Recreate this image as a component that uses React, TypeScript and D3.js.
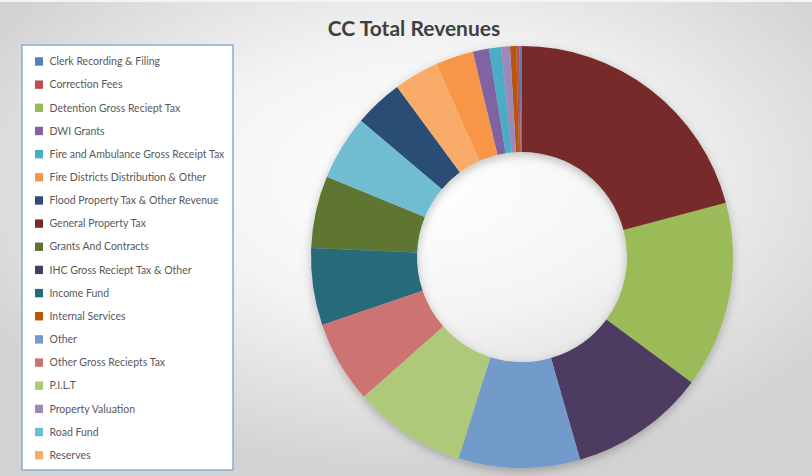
import React from "react";
import * as d3 from "d3";

const categories = [
  "Clerk Recording & Filing",
  "Correction Fees",
  "Detention Gross Reciept Tax",
  "DWI Grants",
  "Fire and Ambulance Gross Receipt Tax",
  "Fire Districts Distribution & Other",
  "Flood Property Tax & Other Revenue",
  "General Property Tax",
  "Grants And Contracts",
  "IHC Gross Reciept Tax & Other",
  "Income Fund",
  "Internal Services",
  "Other",
  "Other Gross Reciepts Tax",
  "P.I.L.T",
  "Property Valuation",
  "Road Fund",
  "Reserves",
];

// share of total revenue (%)
const values = [
  0.19, 0.25, 14.28, 1.25, 0.92, 2.89, 3.75, 20.86, 5.53, 10.42, 5.89, 0.47,
  9.31, 6.31, 8.61, 0.67, 4.97, 3.44,
];

const colors = [
  "#4F81BD", "#C0504D", "#9BBB59", "#8064A2", "#4BACC6", "#F79646",
  "#2C4D75", "#772C2A", "#5F7530", "#4D3B62", "#276A7C", "#B65708",
  "#729ACA", "#CD7371", "#AFC97A", "#9D88B8", "#6FBDD1", "#F9AB6B",
];

const title = "CC Total Revenues";

export default function App() {
  const W = 812, H = 476;
  const cx = 522, cy = 257, outerR = 211, innerR = 105;
  const data = categories.map((c, i) => ({ name: c, value: values[i], color: colors[i] }));
  const pie = d3.pie<any>().value((d: any) => d.value).sort((a: any, b: any) => b.value - a.value);
  const arcs = pie(data);
  const arc = d3.arc<any>().innerRadius(innerR).outerRadius(outerR);

  const legendY = d3.scaleLinear().domain([0, categories.length - 1]).range([61.5, 455.2]);

  return (
    <svg width={W} height={H} style={{ position: "absolute", left: 0, top: 0 }}>
      <defs>
        <radialGradient id="bg" cx="0.52" cy="0.38" r="0.62">
          <stop offset="0" stopColor="#ffffff" />
          <stop offset="0.45" stopColor="#f4f4f4" />
          <stop offset="1" stopColor="#d2d2d2" />
        </radialGradient>
        <filter id="sh" x="-20%" y="-20%" width="140%" height="140%">
          <feDropShadow dx="0" dy="3" stdDeviation="5" floodColor="#000" floodOpacity="0.25" />
        </filter>
      </defs>
      <rect x={0} y={0} width={W} height={H} fill="url(#bg)" />
      <rect x={0} y={0} width={W} height={2} fill="#f4f4f4" />
      <text
        x={414}
        y={36}
        textAnchor="middle"
        fontFamily="Lato, 'Open Sans', sans-serif"
        fontWeight="bold"
        fontSize={21}
        fill="#404040"
      >
        {title}
      </text>
      <g transform={`translate(${cx},${cy})`} filter="url(#sh)">
        {arcs.map((a, i) => (
          <path key={i} d={arc(a) as string} fill={a.data.color} />
        ))}
      </g>
      <rect x={22} y={45} width={211} height={425} fill="#ffffff" stroke="#8EAAD3" strokeWidth={1.5} />
      {data.map((d, i) => (
        <g key={i} transform={`translate(35,${legendY(i)})`}>
          <rect x={0} y={-4.2} width={8} height={8.4} fill={d.color} />
          <text
            x={14.5}
            y={0}
            dy="0.35em"
            fontFamily="Lato, 'Open Sans', sans-serif"
            fontSize={10.5}
            fill="#595959"
          >
            {d.name}
          </text>
        </g>
      ))}
    </svg>
  );
}
